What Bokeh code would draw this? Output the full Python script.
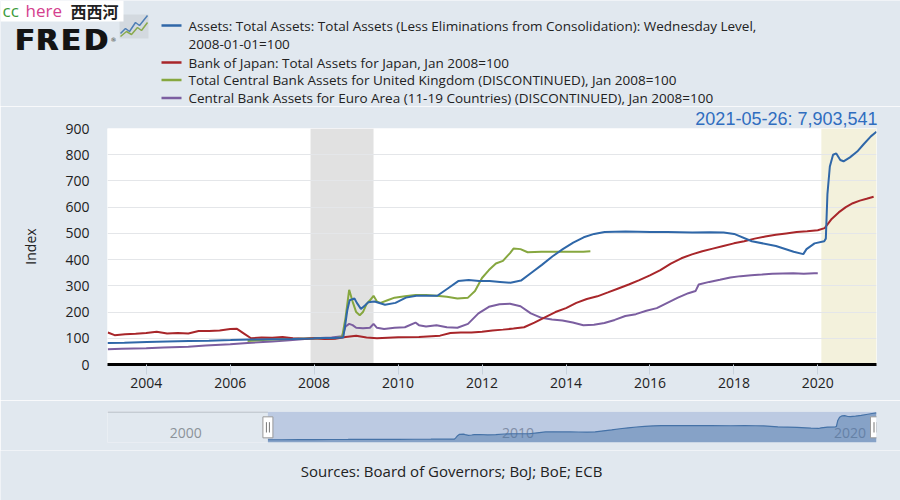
import pandas as pd
from bokeh.plotting import figure
from bokeh.layouts import column
from bokeh.models import Range1d, FixedTicker, DatetimeTickFormatter, BoxAnnotation, Title
from bokeh.core.properties import value
from bokeh.embed import file_html
from bokeh.resources import INLINE

BG = "#e1e8ef"
FONT = "Open Sans"

# ---------------- data (index, Jan 2008 = 100) ----------------
fed_dates = ["2003-01-29", "2003-06-25", "2004-01-07", "2004-06-30", "2005-01-05", "2005-06-29",
             "2006-01-04", "2006-06-28", "2007-01-03", "2007-06-27", "2007-12-26", "2008-01-02",
             "2008-03-26", "2008-06-25", "2008-09-10", "2008-09-24", "2008-10-15", "2008-11-05",
             "2008-12-17", "2009-01-07", "2009-02-11", "2009-03-18", "2009-04-15", "2009-06-10",
             "2009-09-09", "2009-12-09", "2010-03-10", "2010-06-09", "2010-09-08", "2010-12-08",
             "2011-03-09", "2011-06-08", "2011-09-07", "2011-12-07", "2012-03-07", "2012-06-06",
             "2012-09-05", "2012-12-05", "2013-03-06", "2013-06-05", "2013-09-04", "2013-12-04",
             "2014-03-05", "2014-06-04", "2014-09-03", "2014-12-03", "2015-06-03", "2016-01-06",
             "2016-06-01", "2017-01-04", "2017-06-07", "2017-10-04", "2018-01-03", "2018-06-06",
             "2019-01-02", "2019-06-05", "2019-08-28", "2019-09-25", "2019-12-04", "2020-02-26",
             "2020-03-11", "2020-03-25", "2020-04-15", "2020-05-13", "2020-06-10", "2020-07-15",
             "2020-08-12", "2020-10-07", "2020-12-09", "2021-02-03", "2021-04-07", "2021-05-26"]
fed_values = [82, 83, 86, 88, 90, 91,
              93, 95, 96, 97, 99, 100,
              101, 101, 103, 140, 205, 245,
              252, 235, 212, 225, 237, 240,
              228, 235, 255, 262, 262, 262,
              290, 318, 322, 318, 318, 315,
              312, 320, 350, 380, 412, 440,
              465, 485, 498, 505, 507, 505,
              505, 503, 504, 503, 498, 470,
              452, 430, 421, 440, 462, 470,
              480, 650, 755, 800, 805, 780,
              775, 790, 812, 840, 870, 888]

boj_dates = ["2003-02", "2003-04", "2003-07", "2003-10", "2004-01", "2004-04", "2004-07", "2004-10",
             "2005-01", "2005-04", "2005-07", "2005-10", "2006-01", "2006-03", "2006-05", "2006-07",
             "2006-10", "2007-01", "2007-04", "2007-07", "2007-10", "2008-01", "2008-04", "2008-07",
             "2008-10", "2009-01", "2009-04", "2009-07", "2009-10", "2010-01", "2010-07", "2011-01",
             "2011-04", "2011-07", "2011-10", "2012-01", "2012-04", "2012-07", "2012-10", "2013-01",
             "2013-04", "2013-07", "2013-10", "2014-01", "2014-04", "2014-07", "2014-10", "2015-01",
             "2015-04", "2015-07", "2015-10", "2016-01", "2016-04", "2016-07", "2016-10", "2017-01",
             "2017-04", "2017-07", "2017-10", "2018-01", "2018-04", "2018-07", "2018-10", "2019-01",
             "2019-04", "2019-07", "2019-10", "2020-01", "2020-03", "2020-05", "2020-07", "2020-09",
             "2020-11", "2021-01", "2021-03", "2021-05"]
boj_values = [122, 112, 115, 117, 120, 125, 118, 120,
              118, 128, 128, 130, 135, 136, 118, 100,
              103, 102, 105, 100, 98, 100, 97, 98,
              105, 110, 103, 100, 102, 104, 105, 110,
              120, 122, 122, 125, 130, 133, 137, 142,
              160, 180, 200, 215, 235, 250, 260, 275,
              290, 305, 322, 340, 360, 385, 405, 420,
              432, 442, 452, 462, 470, 480, 488, 495,
              500, 505, 508, 512, 520, 555, 580, 600,
              615, 625, 632, 640]

boe_dates = ["2006-06", "2007-01", "2007-06", "2008-01", "2008-06", "2008-09", "2008-10", "2008-11",
             "2008-12", "2009-01", "2009-02", "2009-03", "2009-04", "2009-05", "2009-06", "2009-07",
             "2009-08", "2009-10", "2009-12", "2010-03", "2010-06", "2010-09", "2010-12", "2011-03",
             "2011-06", "2011-09", "2011-11", "2012-01", "2012-03", "2012-05", "2012-07", "2012-09",
             "2012-10", "2012-12", "2013-02", "2013-06", "2013-12", "2014-06", "2014-08"]
boe_values = [90, 95, 97, 100, 98, 105, 180, 285,
              240, 200, 188, 200, 230, 245, 262, 240,
              235, 245, 255, 260, 265, 265, 262, 258,
              252, 255, 280, 330, 360, 385, 395, 425,
              442, 440, 428, 430, 430, 430, 432]

ecb_dates = ["2003-02", "2003-06", "2004-01", "2004-06", "2005-01", "2005-06", "2006-01", "2006-06",
             "2007-01", "2007-06", "2008-01", "2008-06", "2008-09", "2008-10", "2008-11", "2008-12",
             "2009-01", "2009-03", "2009-05", "2009-06", "2009-07", "2009-09", "2009-12", "2010-03",
             "2010-06", "2010-07", "2010-09", "2010-12", "2011-03", "2011-06", "2011-09", "2011-12",
             "2012-03", "2012-06", "2012-09", "2012-12", "2013-03", "2013-06", "2013-09", "2013-12",
             "2014-03", "2014-06", "2014-09", "2014-12", "2015-03", "2015-06", "2015-09", "2015-12",
             "2016-03", "2016-06", "2016-09", "2016-12", "2017-02", "2017-03", "2017-06", "2017-09",
             "2017-12", "2018-03", "2018-06", "2018-09", "2018-12", "2019-06", "2019-09", "2019-12",
             "2020-01"]
ecb_values = [58, 60, 62, 65, 68, 72, 77, 82,
              88, 92, 100, 103, 108, 145, 155, 150,
              140, 138, 140, 155, 140, 135, 140, 142,
              160, 150, 145, 150, 142, 140, 155, 195,
              220, 230, 232, 222, 195, 178, 172, 168,
              160, 150, 152, 158, 170, 185, 192, 205,
              215, 235, 255, 272, 280, 305, 315, 323,
              332, 337, 340, 343, 346, 348, 346, 348,
              348]

series_colors = ["#2f67a8", "#a8262a", "#86a73f", "#7b5ea0"]
legend_lines = [
    "Assets: Total Assets: Total Assets (Less Eliminations from Consolidation): Wednesday Level,",
    "2008-01-01=100",
    "Bank of Japan: Total Assets for Japan, Jan 2008=100",
    "Total Central Bank Assets for United Kingdom (DISCONTINUED), Jan 2008=100",
    "Central Bank Assets for Euro Area (11-19 Countries) (DISCONTINUED), Jan 2008=100",
]
y_ticks = [0, 100, 200, 300, 400, 500, 600, 700, 800, 900]
x_tick_years = [2004, 2006, 2008, 2010, 2012, 2014, 2016, 2018, 2020]
nav_label_years = [2000, 2010, 2020]
recessions = [("2007-12-01", "2009-06-01")]
covid_start = "2020-02-01"
last_label = "2021-05-26: 7,903,541"
source_text = "Sources: Board of Governors; BoJ; BoE; ECB"

X_START = pd.Timestamp("2003-01-29")
X_END = pd.Timestamp("2021-05-26")
NAV_START = pd.Timestamp("1998-04-01")

W = 900
H_HDR, H_MAIN, H_NAV, H_FTR = 106, 294, 50, 50


def T(lst):
    return pd.to_datetime(lst)


def canvas(height, y0):
    """Free-form panel whose data coordinates are the page pixels."""
    f = figure(width=W, height=height, x_range=Range1d(0, W), y_range=Range1d(y0 + height, y0),
               output_backend="svg", toolbar_location=None, x_axis_location=None,
               y_axis_location=None, min_border=0, min_border_left=0, min_border_right=0,
               min_border_top=0, min_border_bottom=0, background_fill_color=BG,
               border_fill_color=BG, outline_line_color=None)
    f.frame_align = False
    f.grid.visible = False
    return f


# ---------------- header (logo + legend) ----------------
hdr = canvas(H_HDR, 0)

for letter, lx in zip(["F", "R", "E", "D"], [14, 35, 60, 83]):
    hdr.text(x=[lx, lx + 1.2], y=[39, 39], text=[letter, letter], text_font=value("DejaVu Sans"),
             text_font_style="bold", text_font_size="29px", text_color="#141414",
             text_baseline="alphabetic", text_align="left")
hdr.text(x=[110], y=[39], text=["®"], text_font=value("DejaVu Sans"), text_font_size="6px",
         text_color="#333", text_baseline="alphabetic")
hdr.quad(left=[119], right=[148], top=[14], bottom=[38], fill_color="#d3d9df", line_color=None)
hdr.line(x=[120, 125, 129, 135, 139, 147], y=[33, 28, 31, 22, 25, 15], line_color="#4f7fb5", line_width=1.5)
hdr.line(x=[120, 126, 131, 137, 141, 147], y=[36, 31, 34, 27, 30, 22], line_color="#8aaa4e", line_width=1.5)

# watermark
hdr.quad(left=[0], right=[123], top=[0], bottom=[21], fill_color="white", line_color=None)
hdr.text(x=[2], y=[10], text=["cc"], text_font=value(FONT), text_font_size="17px",
         text_color="#3a9a3a", text_baseline="middle")
hdr.text(x=[25], y=[10], text=["here"], text_font=value(FONT), text_font_size="17px",
         text_color="#d4408e", text_baseline="middle")
hdr.text(x=[70], y=[10], text=["西西河"], text_font=value("Noto Sans CJK SC"), text_font_size="16px",
         text_font_style="bold", text_color="#222", text_baseline="middle")

# legend
marker_y = [25, 62, 79.5, 97.5]
hdr.segment(x0=[161] * 4, x1=[181] * 4, y0=marker_y, y1=marker_y, line_color=series_colors, line_width=2.5)
text_y = [25, 43, 62, 79.5, 97.5]
hdr.text(x=[188] * 5, y=text_y, text=legend_lines, text_font=value(FONT), text_font_size="13.5px",
         text_color="#222", text_baseline="middle", text_align="left")

# ---------------- main chart ----------------
p = figure(width=W, height=H_MAIN, x_axis_type="datetime",
           x_range=Range1d(X_START.to_pydatetime(), X_END.to_pydatetime()), y_range=Range1d(0, 900),
           output_backend="svg", toolbar_location=None,
           min_border_left=107, min_border_right=24, min_border_top=22, min_border_bottom=36,
           background_fill_color="white", border_fill_color=BG, outline_line_color=None)
p.frame_align = False
p.title = Title(text=last_label, align="right", text_font="Liberation Sans", text_font_size="18px",
                text_font_style="normal", text_color="#2f6dbf", standoff=0, offset=-1)
p.xgrid.visible = False
p.ygrid.grid_line_color = "#e4e6e9"
p.ygrid.ticker = FixedTicker(ticks=y_ticks)

for a, b in recessions:
    p.add_layout(BoxAnnotation(left=pd.Timestamp(a).to_pydatetime(), right=pd.Timestamp(b).to_pydatetime(),
                               fill_color="#e1e1e1", fill_alpha=1, line_color=None, level="image"))
p.add_layout(BoxAnnotation(left=pd.Timestamp(covid_start).to_pydatetime(), right=X_END.to_pydatetime(),
                           fill_color="#f3f1dc", fill_alpha=1, line_color=None, level="image"))

p.line(T(ecb_dates), ecb_values, line_color=series_colors[3], line_width=2)
p.line(T(boe_dates), boe_values, line_color=series_colors[2], line_width=2)
p.line(T(boj_dates), boj_values, line_color=series_colors[1], line_width=2)
p.line(T(fed_dates), fed_values, line_color=series_colors[0], line_width=2)

p.yaxis.ticker = FixedTicker(ticks=y_ticks)
p.yaxis.axis_line_color = None
p.yaxis.major_tick_line_color = None
p.yaxis.minor_tick_line_color = None
p.yaxis.major_tick_out = 0
p.yaxis.major_label_standoff = 18
p.yaxis.major_label_text_font = FONT
p.yaxis.major_label_text_font_size = "14px"
p.yaxis.major_label_text_color = "#222"
p.yaxis.axis_label = "Index"
p.yaxis.axis_label_text_font = FONT
p.yaxis.axis_label_text_font_size = "14px"
p.yaxis.axis_label_text_font_style = "normal"
p.yaxis.axis_label_text_color = "#222"
p.yaxis.axis_label_standoff = 22

p.xaxis.ticker = FixedTicker(ticks=[pd.Timestamp(f"{y}-01-01").value // 10**6 for y in x_tick_years])
p.xaxis.formatter = DatetimeTickFormatter(years="%Y", months="%Y", days="%Y", hours="%Y")
p.xaxis.axis_line_color = "black"
p.xaxis.axis_line_width = 3
p.xaxis.major_tick_out = 10
p.xaxis.major_tick_in = 0
p.xaxis.major_tick_line_color = "#c9d3dd"
p.xaxis.minor_tick_line_color = None
p.xaxis.major_label_standoff = 3
p.xaxis.major_label_text_font = FONT
p.xaxis.major_label_text_font_size = "14px"
p.xaxis.major_label_text_color = "#222"

# ---------------- navigator ----------------
nav = figure(width=W, height=H_NAV, x_axis_type="datetime",
             x_range=Range1d(NAV_START.to_pydatetime(), X_END.to_pydatetime()), y_range=Range1d(0, 930),
             output_backend="svg", toolbar_location=None, x_axis_location=None, y_axis_location=None,
             min_border_left=107, min_border_right=24, min_border_top=11, min_border_bottom=8,
             background_fill_color=BG, border_fill_color=BG, outline_line_color=None)
nav.frame_align = False
nav.grid.visible = False
ms_per_px = (X_END - NAV_START) / 769
nav.segment(x0=[NAV_START], x1=[X_START], y0=[912], y1=[912], line_color="#c5ccd3", line_width=2)
nav.text(x=[pd.Timestamp(f"{y}-01-01") for y in nav_label_years], y=[300] * 3,
         text=[str(y) for y in nav_label_years], x_offset=4, text_align="left", text_baseline="middle",
         text_font=value(FONT), text_font_size="14px", text_color="#8c9299")
nav.quad(left=[X_START], right=[X_END], bottom=[0], top=[930], fill_color="#6685c2", fill_alpha=0.3,
         line_color=None)
nav.varea(x=T(fed_dates), y1=0, y2=fed_values, fill_color="#4572a7", fill_alpha=0.45)
nav.line(T(fed_dates), fed_values, line_color="#4572a7", line_width=1.2)
handle_x = [X_START, X_END - ms_per_px]
nav.rect(x=handle_x, y=[455, 455], width=10, height=21, width_units="screen", height_units="screen",
         fill_color="white", line_color="#999999", line_width=1)
hx0 = [hx - ms_per_px * 1.5 for hx in handle_x] + [hx + ms_per_px * 1.5 for hx in handle_x]
nav.segment(x0=hx0, x1=hx0, y0=[300] * 4, y1=[610] * 4, line_color="#777777", line_width=1)

# ---------------- footer ----------------
ftr = canvas(H_FTR, 450)
ftr.text(x=[451], y=[470], text=[source_text], text_align="center", text_baseline="middle",
         text_font=value(FONT), text_font_size="15px", text_color="#222")

layout = column(hdr, p, nav, ftr, spacing=0)
open("out.html", "w").write(file_html(layout, INLINE))
